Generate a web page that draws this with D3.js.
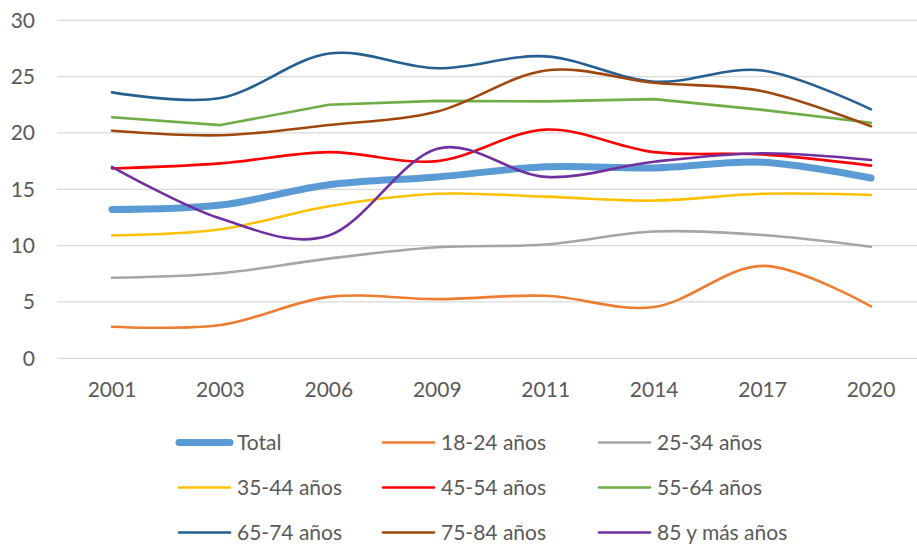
<!DOCTYPE html>
<html><head><meta charset="utf-8">
<script src="https://cdn.jsdelivr.net/npm/d3@7"></script>
<style>body{margin:0;background:#fff}svg{display:block}</style>
</head><body><svg id="c" width="917" height="547"></svg>
<script>
const years = ["2001","2003","2006","2009","2011","2014","2017","2020"];
const yTicks = [0,5,10,15,20,25,30];
const seriesNames = ["Total","18-24 años","25-34 años","35-44 años","45-54 años","55-64 años","65-74 años","75-84 años","85 y más años"];
const colors = ["#5B9BD5","#ED7D31","#A5A5A5","#FFC000","#FF0000","#70AD47","#255E91","#9E480E","#7030A0"];
const vTotal = [13.2,13.6,15.4,16.1,17.0,16.9,17.4,16.0];
const v1824 = [2.8,2.95,5.45,5.25,5.55,4.55,8.2,4.6];
const v2534 = [7.15,7.55,8.85,9.85,10.1,11.25,10.95,9.9];
const v3544 = [10.9,11.45,13.5,14.6,14.35,14.0,14.6,14.5];
const v4554 = [16.85,17.3,18.3,17.5,20.3,18.3,18.1,17.1];
const v5564 = [21.4,20.7,22.5,22.85,22.8,23.0,22.05,20.9];
const v6574 = [23.6,23.1,27.05,25.75,26.8,24.55,25.55,22.1];
const v7584 = [20.2,19.8,20.7,21.9,25.55,24.45,23.7,20.6];
const v85 = [17.0,12.4,10.9,18.6,16.1,17.45,18.2,17.6];
const values = [vTotal,v1824,v2534,v3544,v4554,v5564,v6574,v7584,v85];

const svg = d3.select("#c");
const font = "Lato, 'Open Sans', sans-serif";
const fs = 21;
const x = d3.scalePoint().domain(years).range([112,871]);
const y = d3.scaleLinear().domain([0,30]).range([358.3,20.3]);

svg.append("g").selectAll("line").data(yTicks).join("line")
  .attr("x1",57).attr("x2",917).attr("y1",d=>y(d)).attr("y2",d=>y(d))
  .attr("stroke","#D9D9D9").attr("stroke-width",1.3);
svg.append("g").selectAll("text").data(yTicks).join("text")
  .attr("x",35).attr("y",d=>y(d)).attr("dy","0.35em").attr("text-anchor","end")
  .attr("font-family",font).attr("font-size",fs).attr("fill","#595959").text(d=>d);
svg.append("g").selectAll("text").data(years).join("text")
  .attr("x",d=>x(d)).attr("y",390).attr("dy","0.35em").attr("text-anchor","middle")
  .attr("font-family",font).attr("font-size",fs).attr("fill","#595959").text(d=>d);

values.forEach((vals,i)=>{
  const curve = i===5 ? d3.curveLinear : d3.curveCardinal.tension(0);
  const line = d3.line().x((d,j)=>x(years[j])).y(d=>y(d)).curve(curve);
  svg.append("path").attr("d",line(vals)).attr("fill","none")
    .attr("stroke",colors[i]).attr("stroke-width",i===0?7:2.6)
    .attr("stroke-linecap","round").attr("stroke-linejoin","round");
});

const colX = [177,381,597];
const rowY = [442.5,487.5,532.5];
seriesNames.forEach((n,i)=>{
  const cx = colX[i%3], cy = rowY[Math.floor(i/3)];
  const g = svg.append("g");
  g.append("line").attr("x1",cx+2).attr("x2",cx+53).attr("y1",cy).attr("y2",cy)
    .attr("stroke",colors[i]).attr("stroke-width",i===0?7:2.6).attr("stroke-linecap","round");
  g.append("text").attr("x",cx+60).attr("y",cy).attr("dy","0.35em")
    .attr("font-family",font).attr("font-size",fs).attr("fill","#595959").text(n);
});
</script></body></html>
